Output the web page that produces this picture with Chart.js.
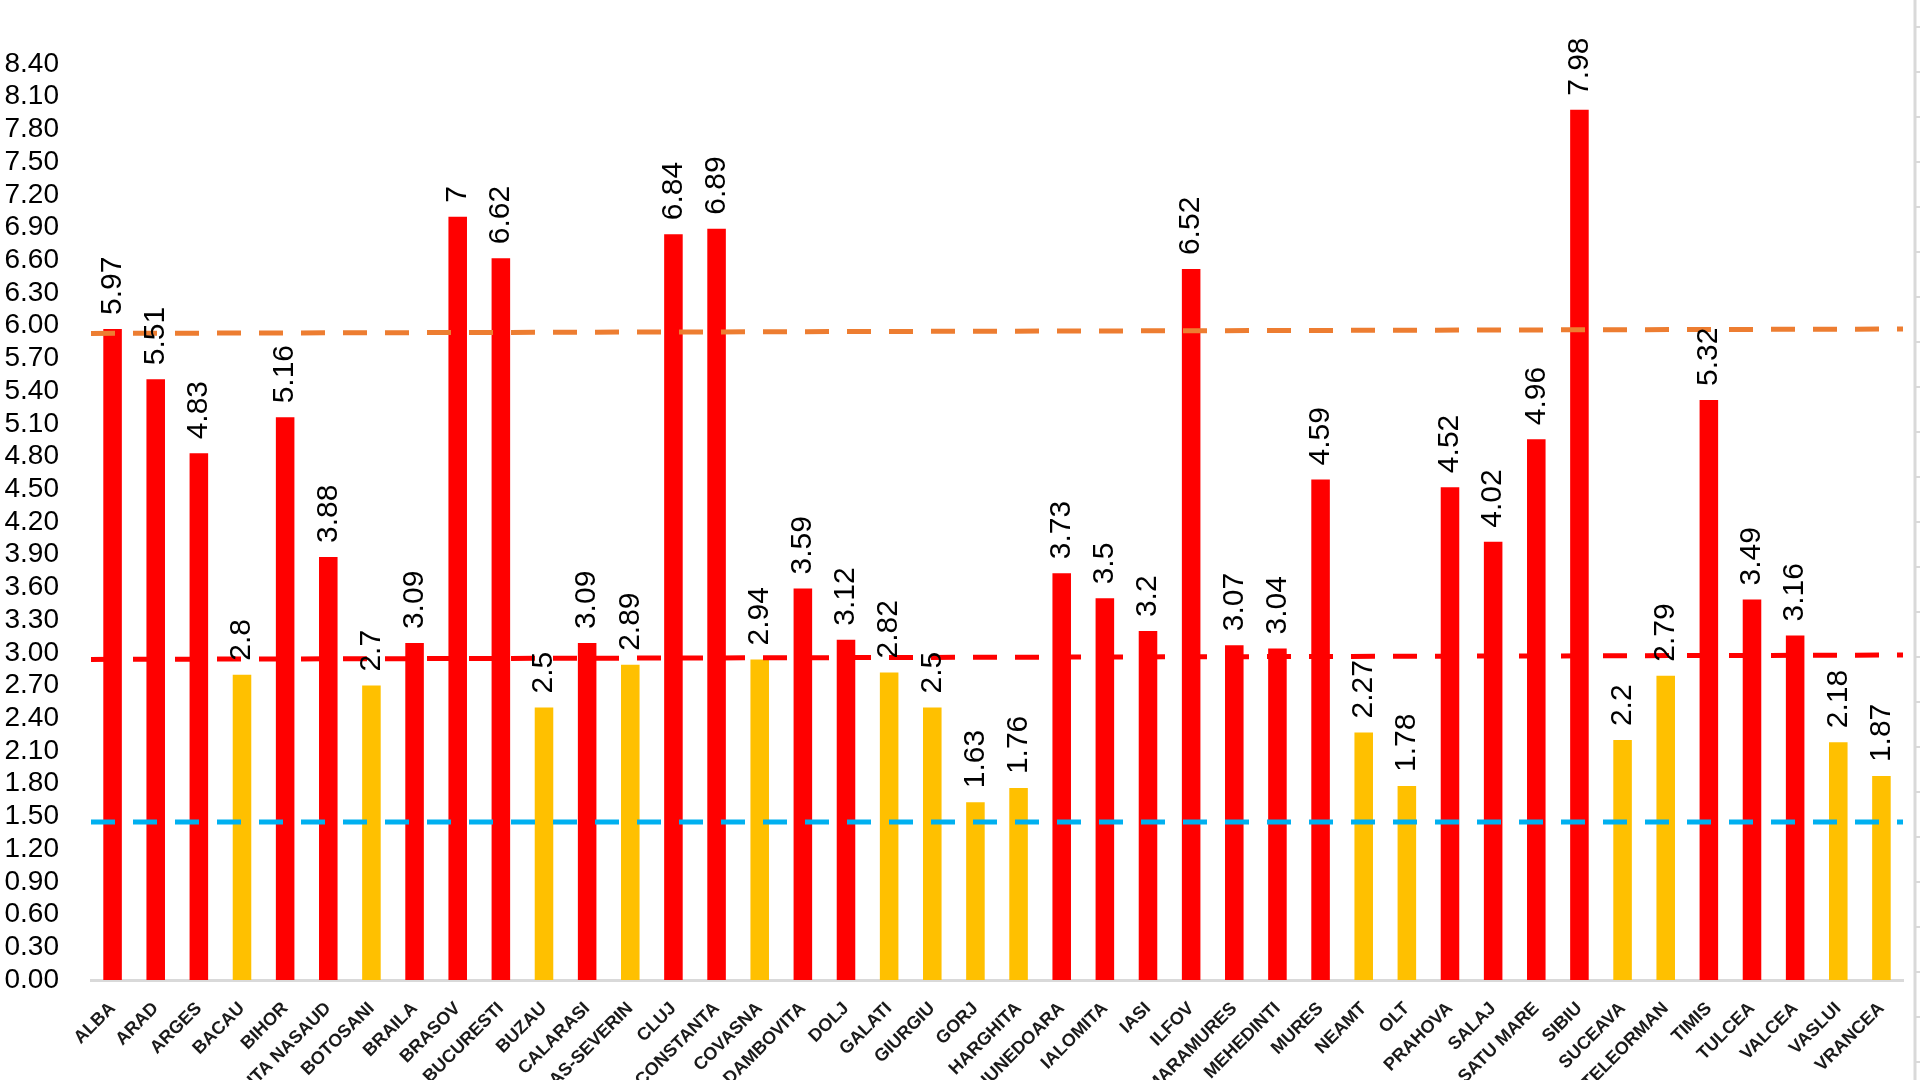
<!DOCTYPE html>
<html>
<head>
<meta charset="utf-8">
<script src="https://cdn.jsdelivr.net/npm/chart.js@4.4.1/dist/chart.umd.min.js"></script>
<style>
  html, body { margin: 0; padding: 0; background: #fff; overflow: hidden; }
  #wrap { width: 1920px; height: 1080px; overflow: hidden; }
  canvas { display: block; }
</style>
</head>
<body>
<div id="wrap"><canvas id="chart" width="1920" height="1140"></canvas></div>
<script>
// ── Date ────────────────────────────────────────────────────────────────
const judete = [
  'ALBA', 'ARAD', 'ARGES', 'BACAU', 'BIHOR', 'BISTRITA NASAUD', 'BOTOSANI', 'BRAILA',
  'BRASOV', 'BUCURESTI', 'BUZAU', 'CALARASI', 'CARAS-SEVERIN', 'CLUJ', 'CONSTANTA',
  'COVASNA', 'DAMBOVITA', 'DOLJ', 'GALATI', 'GIURGIU', 'GORJ', 'HARGHITA', 'HUNEDOARA',
  'IALOMITA', 'IASI', 'ILFOV', 'MARAMURES', 'MEHEDINTI', 'MURES', 'NEAMT', 'OLT',
  'PRAHOVA', 'SALAJ', 'SATU MARE', 'SIBIU', 'SUCEAVA', 'TELEORMAN', 'TIMIS', 'TULCEA',
  'VALCEA', 'VASLUI', 'VRANCEA'
]
const valori = [
  5.97, 5.51, 4.83, 2.8, 5.16, 3.88, 2.7, 3.09,
  7, 6.62, 2.5, 3.09, 2.89, 6.84, 6.89,
  2.94, 3.59, 3.12, 2.82, 2.5, 1.63, 1.76, 3.73,
  3.5, 3.2, 6.52, 3.07, 3.04, 4.59, 2.27, 1.78,
  4.52, 4.02, 4.96, 7.98, 2.2, 2.79, 5.32, 3.49,
  3.16, 2.18, 1.87
]
const prag = 3

// praguri (capetele liniilor intrerupte, stanga -> dreapta)
const pragPortocaliu = [5.93, 5.97]
const pragRosu = [2.94, 2.98]
const pragAlbastru = [1.45, 1.45]

const yMax = 8.54
const yUltimTick = 8.4
const yPas = 0.3

const ROSU = '#FF0000'
const GALBEN = '#FFC000'
const FONT = '"Liberation Sans", Arial, sans-serif'

function linie (arr, culoare) {
  return {
    type: 'line',
    data: [{ x: 0, y: arr[0] }, { x: 1, y: arr[1] }],
    xAxisID: 'xl',
    yAxisID: 'y',
    borderColor: culoare,
    borderWidth: 5,
    borderDash: [24, 18],
    pointRadius: 0,
    fill: false,
    tension: 0,
    order: 1
  }
}

// ── Etichete valori (verticale, deasupra barelor) ──────────────────────
const etichete = {
  id: 'etichete',
  afterDatasetsDraw (chart) {
    const meta = chart.getDatasetMeta(0)
    const ctx = chart.ctx
    ctx.save()
    ctx.font = '30px ' + FONT
    ctx.fillStyle = '#000'
    ctx.textAlign = 'left'
    ctx.textBaseline = 'middle'
    meta.data.forEach((bar, i) => {
      ctx.save()
      ctx.translate(bar.x, bar.y - 14)
      ctx.rotate(-Math.PI / 2)
      ctx.fillText(String(valori[i]), 0, 0)
      ctx.restore()
    })
    ctx.restore()
  }
}

// ── Marginea din dreapta (linie gri cu repere) ─────────────────────────
const rama = {
  id: 'rama',
  afterDraw (chart) {
    const ctx = chart.ctx
    const x = chart.width - 5
    ctx.save()
    ctx.strokeStyle = '#D9D9D9'
    ctx.lineWidth = 3
    ctx.beginPath(); ctx.moveTo(x, 0); ctx.lineTo(x, chart.height); ctx.stroke()
    ctx.lineWidth = 2
    for (let y = 27; y < chart.height; y += 45) {
      ctx.beginPath(); ctx.moveTo(x, y); ctx.lineTo(chart.width, y); ctx.stroke()
    }
    ctx.restore()
  }
}

new Chart(document.getElementById('chart'), {
  type: 'bar',
  data: {
    labels: judete,
    datasets: [
      {
        data: valori,
        backgroundColor: valori.map(v => v > prag ? ROSU : GALBEN),
        categoryPercentage: 1,
        barPercentage: 0.43,
        grouped: false,
        order: 2
      },
      linie(pragPortocaliu, '#ED7D31'),
      linie(pragRosu, '#FF0000'),
      linie(pragAlbastru, '#00B0F0')
    ]
  },
  options: {
    responsive: false,
    devicePixelRatio: 1,
    animation: false,
    layout: { padding: { left: 0, right: 17, top: 0, bottom: 0 } },
    plugins: { legend: { display: false }, tooltip: { enabled: false } },
    scales: {
      x: {
        type: 'category',
        offset: true,
        grid: { display: false },
        border: { display: true, color: '#D9D9D9', width: 3 },
        ticks: {
          autoSkip: false,
          maxRotation: 45,
          minRotation: 45,
          padding: 10,
          color: '#1a1a1a',
          font: { family: FONT, size: 18, weight: 'bold' }
        },
        afterFit: s => { s.height = 160 }
      },
      xl: { type: 'linear', min: 0, max: 1, offset: false, display: false },
      y: {
        min: 0,
        max: yMax,
        bounds: 'data',
        grid: { display: false, drawTicks: false },
        border: { display: false },
        ticks: {
          autoSkip: false,
          includeBounds: false,
          stepSize: yPas,
          padding: 32,
          color: '#000',
          font: { family: FONT, size: 28 },
          callback: v => v.toFixed(2)
        },
        afterBuildTicks: s => { s.ticks = s.ticks.filter(t => t.value <= yUltimTick + 1e-6) },
        afterFit: s => { s.width = 91 }
      }
    }
  },
  plugins: [etichete, rama]
})
</script>
</body>
</html>
